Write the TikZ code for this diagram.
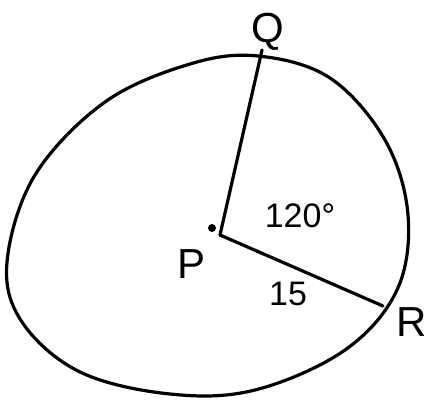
\documentclass[tikz,border=0pt]{standalone}
\usepackage{fontspec}
\setmainfont{Liberation Sans}
\begin{document}
\begin{tikzpicture}[x=1pt,y=-1pt,
  ink/.style={line width=3.2pt,line cap=round,line join=round},
  lbl/.style={font=\fontsize{42}{42}\selectfont,inner sep=0pt},
  sml/.style={font=\fontsize{34}{34}\selectfont,inner sep=0pt}]
\useasboundingbox (0,0) rectangle (430,402);
\draw[ink] plot[smooth cycle,tension=0.6] coordinates {(258,56) (330,78) (385,140) (408,215) (397,290) (345,350) (255,390) (170,394) (80,372) (22,322) (7,262) (35,175) (105,102) (190,64)};
\coordinate (P) at (220,235);
\coordinate (Q) at (262,50);
\coordinate (R) at (383,306);
\draw[ink] (P) -- (Q);
\draw[ink] (P) -- (R);
\fill (212,228) circle (4pt);
\node[lbl] (q) at (268,32) {Q};
\node[lbl] (p) at (192,264) {P};
\node[lbl] (r) at (412,322) {R};
\node[sml] (ang) at (300,216) {120°};
\node[sml] (len) at (288,294) {15};
\end{tikzpicture}
\end{document}
